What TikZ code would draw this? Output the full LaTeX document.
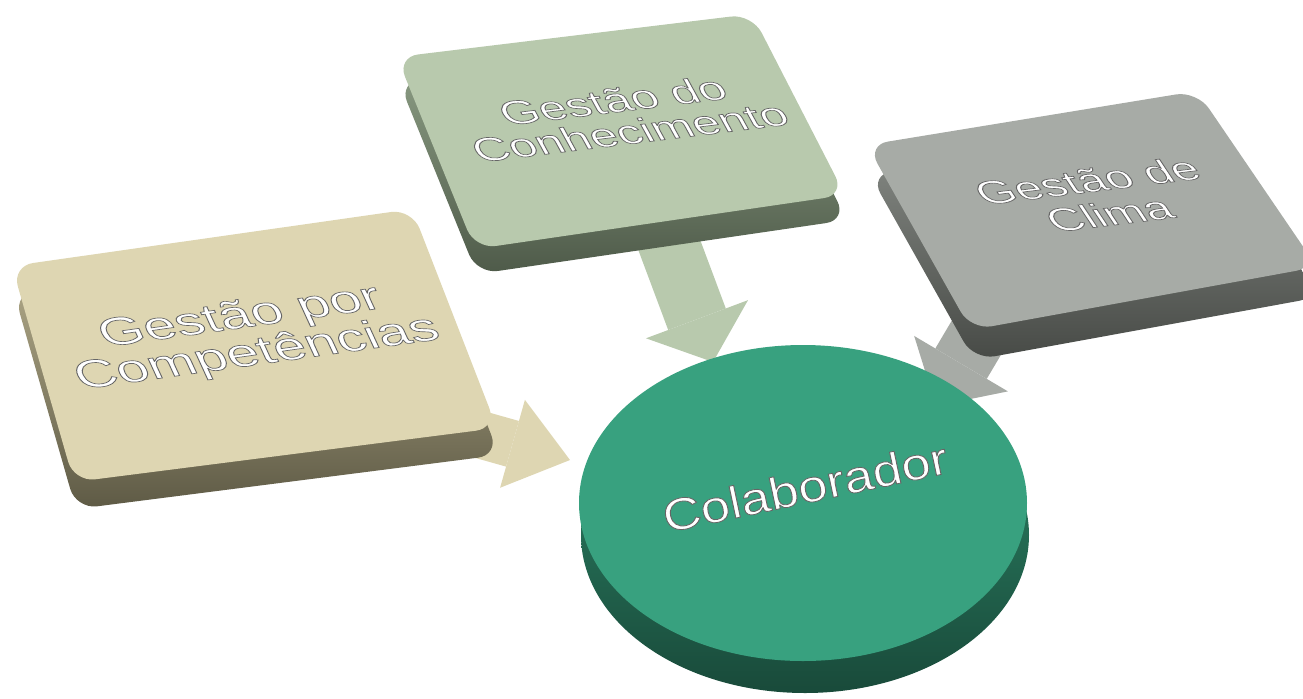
\documentclass[tikz,border=0pt]{standalone}
\usepackage{fontspec}
\setmainfont{Liberation Sans}
\usetikzlibrary{arrows.meta,positioning}
\definecolor{bege}{HTML}{DED6B2}
\definecolor{begeclaro}{HTML}{BDB593}
\definecolor{begeescuro}{HTML}{5E5A45}
\definecolor{salvia}{HTML}{B8C9AD}
\definecolor{salviaclaro}{HTML}{93A58B}
\definecolor{salviaescuro}{HTML}{4E5A49}
\definecolor{cinza}{HTML}{A7ABA6}
\definecolor{cinzaclaro}{HTML}{8C908B}
\definecolor{cinzaescuro}{HTML}{474A46}
\definecolor{verde}{HTML}{38A17F}
\definecolor{verdeclaro}{HTML}{2E8A6B}
\definecolor{verdeescuro}{HTML}{194A3A}
\pgfdeclarelayer{setas}
\pgfsetlayers{setas,main}
\newcommand{\relevo}[1]{\special{pdf:literal direct 2 Tr 0.55 w 0.4 0.4 0.4 RG}#1\special{pdf:literal direct 0 Tr}}

\begin{document}
\begin{tikzpicture}[x=0.02cm,y=-0.02cm,
  boxtop/.style={fill=#1,rounded corners=12pt},
  boxside/.style 2 args={top color=#1,bottom color=#2,rounded corners=12pt},
  txt/.style={text=white,align=center,inner sep=2pt,transform shape},
  flow/.style n args={4}{draw=#1,line width=#2,-{Triangle[width=#3,length=#4,line width=0pt]}}]
  \useasboundingbox (0,0) rectangle (1303,698);
  \clip (0,0) rectangle (1303,698);

  \path[boxside={begeclaro}{begeescuro}] (14,293) -- (414,236) -- (499,455) -- (76,509) -- cycle;
  \path[boxtop=bege] (12,266) -- (412,209) -- (497,428) -- (74,482) -- cycle;
  \path[boxside={salviaclaro}{salviaescuro}] (399,82) -- (754,39) -- (847,220) -- (477,274) -- cycle;
  \path[boxtop=salvia] (397,57) -- (752,14) -- (845,195) -- (475,249) -- cycle;
  \path[boxside={cinzaclaro}{cinzaescuro}] (870,175) -- (1200,121) -- (1320,297) -- (974,360) -- cycle;
  \path[boxtop=cinza] (867,145) -- (1197,91) -- (1317,267) -- (971,330) -- cycle;
  \path[top color=verdeclaro,bottom color=verdeescuro] (805,535) ellipse [x radius=224, y radius=158];
  \path[fill=verde] (803,503) ellipse [x radius=224, y radius=158];

  \node[txt,font=\fontsize{32.5}{29}\selectfont,rotate=8,xslant=-0.3,yscale=0.7] (comp) at (249,336) {\relevo{Gestão por}\\\relevo{Competências}};
  \node[txt,font=\fontsize{27.8}{27}\selectfont,rotate=7,xslant=-0.4,yscale=0.7] (conh) at (621,116) {\relevo{Gestão do}\\\relevo{Conhecimento}};
  \node[txt,font=\fontsize{27.3}{29}\selectfont,rotate=7,xslant=-0.5,yscale=0.7] (clima) at (1098,197) {\relevo{Gestão de}\\\relevo{Clima}};
  \node[txt,font=\fontsize{30}{30}\selectfont,rotate=12,yscale=0.85] (colab) at (805,487) {\relevo{Colaborador}};

  \coordinate (ta) at (570,460);
  \coordinate (tb) at (713,362);
  \coordinate (tc) at (936,406);
  \begin{pgfonlayer}{setas}
    \path (comp.south) edge[flow={bege}{27pt}{52pt}{34pt}] (ta);
    \path (conh.center) edge[flow={salvia}{35pt}{62pt}{26pt}] (tb);
    \path (clima.north) edge[flow={cinza}{34pt}{62pt}{28pt}] (tc);
  \end{pgfonlayer}
\end{tikzpicture}
\end{document}
